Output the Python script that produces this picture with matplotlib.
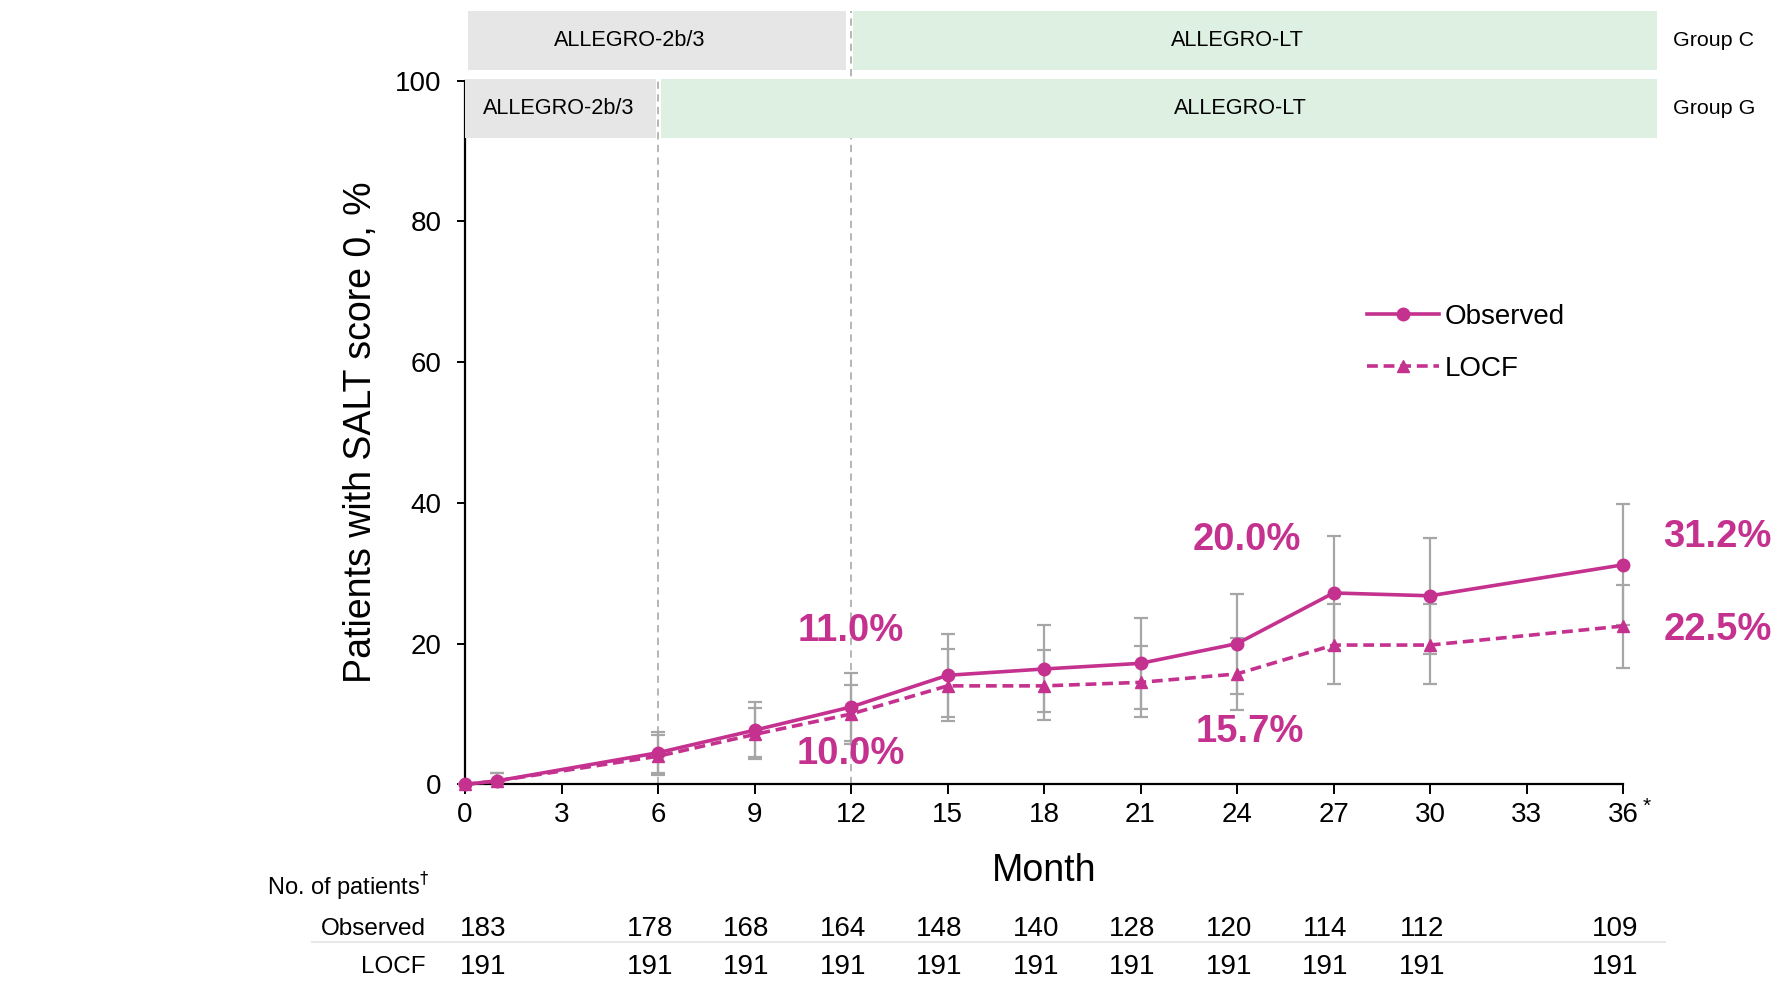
import matplotlib
matplotlib.use("Agg")
import matplotlib.pyplot as plt
from matplotlib.patches import Rectangle
from matplotlib.transforms import blended_transform_factory
from matplotlib.lines import Line2D

plt.rcParams['font.family'] = ['Liberation Sans', 'DejaVu Sans']

# ---------------- data ----------------
months = [0, 1, 6, 9, 12, 15, 18, 21, 24, 27, 30, 36]
observed = [0.0, 0.5, 4.5, 7.7, 11.0, 15.5, 16.4, 17.2, 20.0, 27.2, 26.8, 31.2]
observed_lo = [0.0, 0.0, 1.6, 3.9, 6.2, 9.6, 10.3, 10.7, 12.8, 19.1, 18.5, 22.6]
observed_hi = [0.0, 1.6, 7.5, 11.7, 15.8, 21.4, 22.6, 23.7, 27.1, 35.3, 35.0, 39.9]
locf = [0.0, 0.5, 4.0, 7.1, 10.0, 14.0, 14.0, 14.5, 15.7, 19.8, 19.8, 22.5]
locf_lo = [0.0, 0.0, 1.3, 3.6, 5.8, 9.0, 9.15, 9.6, 10.6, 14.2, 14.2, 16.5]
locf_hi = [0.0, 1.6, 7.0, 10.9, 14.1, 19.3, 19.05, 19.7, 20.8, 25.6, 25.6, 28.4]

xticks = [0, 3, 6, 9, 12, 15, 18, 21, 24, 27, 30, 33, 36]
yticks = [0, 20, 40, 60, 80, 100]

table_months = [0, 6, 9, 12, 15, 18, 21, 24, 27, 30, 36]
n_observed = [183, 178, 168, 164, 148, 140, 128, 120, 114, 112, 109]
n_locf = [191, 191, 191, 191, 191, 191, 191, 191, 191, 191, 191]

phase_switch_g = 6
phase_switch_c = 12

# annotations: (month, value label)
obs_labels = {12: "11.0%", 24: "20.0%", 36: "31.2%"}
locf_labels = {12: "10.0%", 24: "15.7%", 36: "22.5%"}

MAG = '#C4318E'
GREY = '#A6A6A6'

fig = plt.figure(figsize=(17.8, 9.82), dpi=100)
ax = fig.add_axes([465/1780, 1-784.4/982, 1158/1780, 703.8/982])
ax.set_xlim(0, 36)
ax.set_ylim(0, 100)

# error bars
def errs(vals, lo, hi):
    return [[v - l for v, l in zip(vals, lo)], [h - v for v, h in zip(vals, hi)]]

ax.errorbar(months, observed, yerr=errs(observed, observed_lo, observed_hi), fmt='none',
            ecolor=GREY, elinewidth=1.6, capsize=5, capthick=1.6, zorder=2, clip_on=False)
ax.errorbar(months, locf, yerr=errs(locf, locf_lo, locf_hi), fmt='none',
            ecolor=GREY, elinewidth=1.6, capsize=5, capthick=1.6, zorder=2, clip_on=False)

l1, = ax.plot(months, observed, '-o', color=MAG, lw=2.6, ms=9, zorder=4, clip_on=False, label='Observed')
l2, = ax.plot(months, locf, '--^', color=MAG, lw=2.6, ms=8.5, zorder=3, clip_on=False,
              dashes=(3, 1.6), label='LOCF')

# vertical phase lines
ax.plot([phase_switch_g, phase_switch_g], [0, 100.2], color='#B0B0B0', lw=1.3, ls=(0, (4, 3)),
        zorder=1, clip_on=False)
ax.plot([phase_switch_c, phase_switch_c], [0, 109.9], color='#B0B0B0', lw=1.3, ls=(0, (4, 3)),
        zorder=1, clip_on=False)

# banners
GRAY_BAN = '#E6E6E6'
GREEN_BAN = '#DDF0E2'
right_end = 37.05
# Group C
ax.add_patch(Rectangle((0.09, 101.5), phase_switch_c - 0.16 - 0.09, 8.4, facecolor=GRAY_BAN,
                       edgecolor='none', clip_on=False, zorder=5))
ax.add_patch(Rectangle((phase_switch_c + 0.06, 101.5), right_end - phase_switch_c - 0.06, 8.4,
                       facecolor=GREEN_BAN, edgecolor='none', clip_on=False, zorder=5))
# Group G
ax.add_patch(Rectangle((0.0, 91.8), phase_switch_g - 0.06, 8.4, facecolor=GRAY_BAN,
                       edgecolor='none', clip_on=False, zorder=5))
ax.add_patch(Rectangle((phase_switch_g + 0.09, 91.8), right_end - phase_switch_g - 0.09, 8.4,
                       facecolor=GREEN_BAN, edgecolor='none', clip_on=False, zorder=5))
bfs = 15.6
ax.text(5.13, 105.7, 'ALLEGRO-2b/3', ha='center', va='center', fontsize=bfs, zorder=6, clip_on=False)
ax.text(24.0, 105.7, 'ALLEGRO-LT', ha='center', va='center', fontsize=bfs, zorder=6, clip_on=False)
ax.text(phase_switch_g / 2 - 0.1, 96.0, 'ALLEGRO-2b/3', ha='center', va='center', fontsize=bfs, zorder=6, clip_on=False)
ax.text(24.1, 96.0, 'ALLEGRO-LT', ha='center', va='center', fontsize=bfs, zorder=6, clip_on=False)
ax.text(37.55, 105.7, 'Group C', ha='left', va='center', fontsize=15.4, clip_on=False)
ax.text(37.55, 96.0, 'Group G', ha='left', va='center', fontsize=15.4, clip_on=False)

# percent annotations
afs = 27.5
pos_obs = {12: (12, 21.8, 'center'), 24: (24.3, 34.7, 'center'), 36: (37.25, 35.2, 'left')}
pos_locf = {12: (12, 4.3, 'center'), 24: (24.4, 7.4, 'center'), 36: (37.25, 21.9, 'left')}
for k, txt in obs_labels.items():
    x, y, ha = pos_obs[k]
    ax.text(x, y, txt, color=MAG, fontsize=afs, fontweight='bold', ha=ha, va='center', clip_on=False)
for k, txt in locf_labels.items():
    x, y, ha = pos_locf[k]
    ax.text(x, y, txt, color=MAG, fontsize=afs, fontweight='bold', ha=ha, va='center', clip_on=False)

# axes styling
for s in ['top', 'right']:
    ax.spines[s].set_visible(False)
for s in ['left', 'bottom']:
    ax.spines[s].set_linewidth(1.6)
ax.set_xticks(xticks)
ax.set_yticks(yticks)
ax.tick_params(axis='x', direction='out', length=7, width=1.4, labelsize=20, pad=6)
ax.tick_params(axis='y', direction='out', length=6, width=1.4, labelsize=20, pad=11)
ax.set_xlabel('Month', fontsize=27)
ax.xaxis.set_label_coords(0.5, -0.097)
ax.set_ylabel('Patients with SALT score 0, %', fontsize=27)
ax.yaxis.set_label_coords(-0.074, 0.5)

# asterisk on 36
fig.text(1647/1780, 1-806/982, '*', fontsize=15, ha='center', va='center')

# legend
leg = ax.legend(handles=[l1, l2], loc='upper left', bbox_to_anchor=(1367/1780, 1-304/982),
                bbox_transform=fig.transFigure, frameon=False, fontsize=20, handlelength=2.6,
                handletextpad=0.2, labelspacing=0.93, borderpad=0, borderaxespad=0)

# patients table
tr = blended_transform_factory(ax.transData, fig.transFigure)
fig.text(429/1780, 1-887/982, 'No. of patients$^{\\dagger}$', ha='right', va='center', fontsize=17)
fig.text(426/1780, 1-929/982, 'Observed', ha='right', va='center', fontsize=17.5)
fig.text(426/1780, 1-967/982, 'LOCF', ha='right', va='center', fontsize=17.5)
for i, (m, n) in enumerate(zip(table_months, n_observed)):
    if i == 0:
        ax.text(m - 0.15, 1-929/982, str(n), transform=tr, ha='left', va='center', fontsize=20, clip_on=False)
    else:
        ax.text(m - 0.25, 1-929/982, str(n), transform=tr, ha='center', va='center', fontsize=20, clip_on=False)
for i, (m, n) in enumerate(zip(table_months, n_locf)):
    if i == 0:
        ax.text(m - 0.15, 1-967/982, str(n), transform=tr, ha='left', va='center', fontsize=20, clip_on=False)
    else:
        ax.text(m - 0.25, 1-967/982, str(n), transform=tr, ha='center', va='center', fontsize=20, clip_on=False)
fig.add_artist(Line2D([312/1780, 1665/1780], [1-942/982, 1-942/982], color='#E8E8E8', lw=1.5,
                      transform=fig.transFigure))

fig.savefig('out.png', dpi=100)
